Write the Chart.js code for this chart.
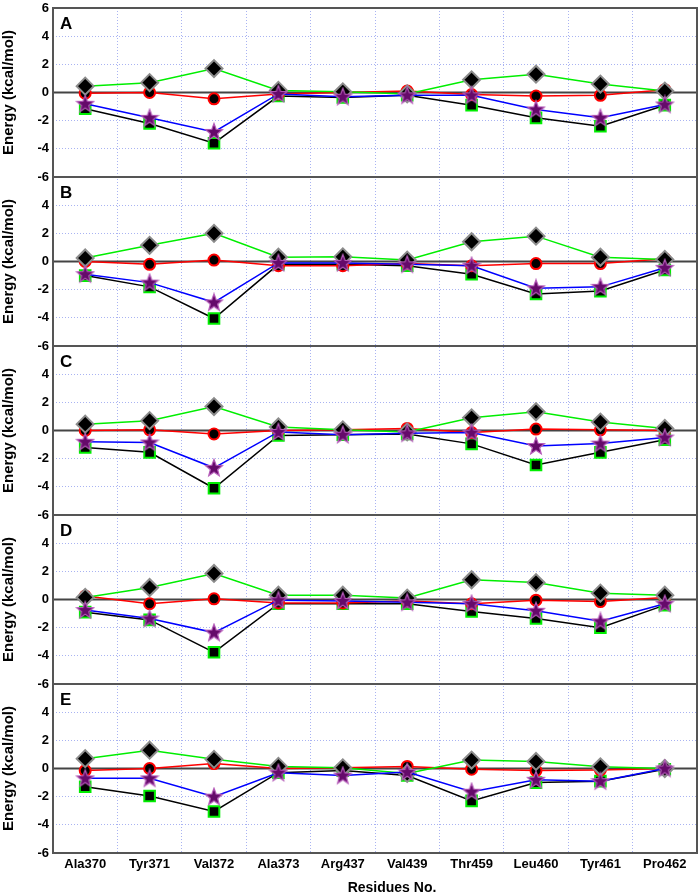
<!DOCTYPE html>
<html><head><meta charset="utf-8">
<script src="https://cdn.jsdelivr.net/npm/chart.js@4.4.0/dist/chart.umd.min.js"></script>
<style>html,body{margin:0;padding:0;background:#fff;}#wrap{position:relative;width:700px;height:896px;}</style>
</head><body><div id="wrap"><canvas id="c" width="700" height="896"></canvas></div>
<script>
const categories = ['Ala370','Tyr371','Val372','Ala373','Arg437','Val439','Thr459','Leu460','Tyr461','Pro462'];
const panelLabels = ['A','B','C','D','E'];
const xTitle = 'Residues No.';
const yTitle = 'Energy (kcal/mol)';

// Panel A
const diamondA = [0.45, 0.7, 1.7, 0.15, 0.05, -0.1, 0.9, 1.3, 0.6, 0.1];
const circleA  = [-0.05, 0.0, -0.45, -0.1, 0.0, 0.1, -0.15, -0.25, -0.2, 0.2];
const starA    = [-0.8, -1.8, -2.8, -0.1, -0.3, -0.2, -0.2, -1.2, -1.8, -0.85];
const squareA  = [-1.15, -2.2, -3.6, -0.25, -0.35, -0.2, -0.9, -1.8, -2.4, -0.9];
// Panel B
const diamondB = [0.25, 1.15, 2.0, 0.3, 0.33, 0.1, 1.4, 1.8, 0.3, 0.15];
const circleB  = [0.0, -0.2, 0.1, -0.3, -0.3, -0.15, -0.3, -0.15, -0.15, 0.2];
const starB    = [-0.9, -1.5, -2.9, -0.1, -0.1, -0.2, -0.3, -1.9, -1.8, -0.45];
const squareB  = [-1.0, -1.8, -4.05, -0.2, -0.2, -0.3, -0.9, -2.3, -2.1, -0.6];
// Panel C
const diamondC = [0.45, 0.7, 1.7, 0.25, 0.05, -0.1, 0.9, 1.33, 0.6, 0.15];
const circleC  = [0.0, 0.05, -0.25, 0.0, 0.05, 0.15, -0.15, 0.1, 0.05, 0.0];
const starC    = [-0.8, -0.85, -2.65, -0.1, -0.3, -0.2, -0.15, -1.1, -0.93, -0.5];
const squareC  = [-1.2, -1.55, -4.1, -0.35, -0.3, -0.25, -0.95, -2.45, -1.55, -0.65];
// Panel D
const diamondD = [0.15, 0.85, 1.85, 0.3, 0.3, 0.1, 1.4, 1.2, 0.45, 0.3];
const circleD  = [0.25, -0.3, 0.05, -0.25, -0.25, -0.1, -0.3, -0.05, -0.15, 0.15];
const starD    = [-0.75, -1.35, -2.35, -0.05, -0.1, -0.2, -0.3, -0.8, -1.55, -0.3];
const squareD  = [-0.9, -1.45, -3.75, -0.3, -0.3, -0.3, -0.85, -1.35, -2.0, -0.4];
// Panel E
const diamondE = [0.7, 1.3, 0.65, 0.15, 0.05, -0.35, 0.6, 0.5, 0.12, 0.0];
const circleE  = [-0.15, 0.0, 0.35, 0.0, 0.05, 0.15, -0.05, -0.15, -0.1, 0.0];
const starE    = [-0.7, -0.7, -2.0, -0.3, -0.5, -0.25, -1.65, -0.8, -0.9, 0.0];
const squareE  = [-1.3, -1.95, -3.05, -0.3, -0.15, -0.5, -2.3, -1.0, -0.9, -0.05];

const panels = [
  {id:'yA', label:'A', diamond:diamondA, circle:circleA, star:starA, square:squareA},
  {id:'yB', label:'B', diamond:diamondB, circle:circleB, star:starB, square:squareB},
  {id:'yC', label:'C', diamond:diamondC, circle:circleC, star:starC, square:squareC},
  {id:'yD', label:'D', diamond:diamondD, circle:circleD, star:starD, square:squareD},
  {id:'yE', label:'E', diamond:diamondE, circle:circleE, star:starE, square:squareE}
];

Chart.defaults.font.family = "'Liberation Sans', Arial, sans-serif";
const gridColor = '#a9b3f2';

function makeStar(){
  const c = document.createElement('canvas');
  c.width = 20; c.height = 20;
  const g = c.getContext('2d');
  const cx = 10, cy = 10.5, R = 9, r = 3.8;
  g.beginPath();
  for (let i = 0; i < 10; i++) {
    const rad = (i % 2 === 0) ? R : r;
    const a = -Math.PI/2 + i*Math.PI/5;
    const px = cx + rad*Math.cos(a), py = cy + rad*Math.sin(a);
    if (i === 0) g.moveTo(px, py); else g.lineTo(px, py);
  }
  g.closePath();
  g.fillStyle = '#650a6a';
  g.fill();
  g.lineWidth = 1.2;
  g.strokeStyle = '#b45ab8';
  g.stroke();
  return c;
}
const starImg = makeStar();

const datasets = [];
panels.forEach(p => {
  datasets.push({label:'star'+p.label, data:p.star, yAxisID:p.id, order:0,
    borderColor:'#0000ff', borderWidth:1.5, pointStyle:starImg, pointRadius:8, tension:0, fill:false});
  datasets.push({label:'diamond'+p.label, data:p.diamond, yAxisID:p.id, order:1,
    borderColor:'#00ee00', borderWidth:1.5, pointStyle:'rectRot', pointRadius:8.5,
    pointBackgroundColor:'#000', pointBorderColor:'#8c8c8c', pointBorderWidth:2, tension:0, fill:false});
  datasets.push({label:'circle'+p.label, data:p.circle, yAxisID:p.id, order:2,
    borderColor:'#ff0000', borderWidth:1.5, pointStyle:'circle', pointRadius:5.5,
    pointBackgroundColor:'#000', pointBorderColor:'#ff0000', pointBorderWidth:2, tension:0, fill:false});
  datasets.push({label:'square'+p.label, data:p.square, yAxisID:p.id, order:3,
    borderColor:'#000000', borderWidth:1.5, pointStyle:'rect', pointRadius:7.5,
    pointBackgroundColor:'#000', pointBorderColor:'#00ee00', pointBorderWidth:2, tension:0, fill:false});
});

const scales = {
  x: {
    type:'category', labels:categories, offset:true,
    grid:{offset:true, color:gridColor, lineWidth:1, drawTicks:false},
    border:{display:false, dash:[1,2]},
    ticks:{color:'#000', font:{size:13, weight:'bold'}, padding:4, maxRotation:0, autoSkip:false},
    afterFit(s){ s.height = 43; s.paddingLeft = 0; s.paddingRight = 0; }
  }
};
panels.forEach((p, i) => {
  scales[p.id] = {
    type:'linear', position:'left', stack:'panels', stackWeight:1, weight:10 - i,
    min:-6, max:6,
    grid:{color: ctx => (ctx.tick && (ctx.tick.value === 0 || Math.abs(ctx.tick.value) === 6)) ? 'rgba(0,0,0,0)' : gridColor,
          lineWidth:1, drawTicks:false},
    border:{display:false, dash:[1,2]},
    ticks:{stepSize:2, autoSkip:false, color:'#000', font:{size:13, weight:'bold'}, padding:4,
      callback: v => (i > 0 && v === 6) ? '' : String(v)},
    title:{display:true, text:yTitle, color:'#000', font:{size:15, weight:'bold'}, padding:0},
    afterFit(s){ s.width = 53; s.paddingTop = 0; s.paddingBottom = 0; }
  };
});

const framePlugin = {
  id:'frames',
  beforeDatasetsDraw(chart){
    const ctx = chart.ctx, a = chart.chartArea;
    ctx.save();
    panels.forEach(p => {
      const s = chart.scales[p.id];
      const y0 = s.getPixelForValue(0);
      ctx.strokeStyle = '#444'; ctx.lineWidth = 2;
      ctx.beginPath(); ctx.moveTo(a.left, y0); ctx.lineTo(a.right, y0); ctx.stroke();
      ctx.strokeStyle = '#555'; ctx.lineWidth = 2;
      ctx.strokeRect(a.left, s.top, a.right - a.left, s.bottom - s.top);
    });
    ctx.restore();
  },
  afterDraw(chart){
    const ctx = chart.ctx, a = chart.chartArea;
    ctx.save();
    ctx.fillStyle = '#000';
    ctx.font = "bold 17px 'Liberation Sans', Arial, sans-serif";
    ctx.textBaseline = 'middle'; ctx.textAlign = 'left';
    panels.forEach(p => {
      const s = chart.scales[p.id];
      ctx.fillText(p.label, a.left + 7, s.top + 16);
    });
    ctx.font = "bold 14px 'Liberation Sans', Arial, sans-serif";
    ctx.textAlign = 'center';
    ctx.fillText(xTitle, 392, 888);
    ctx.restore();
  }
};

new Chart(document.getElementById('c'), {
  type:'line',
  data:{labels:categories, datasets},
  options:{
    responsive:false, animation:false,
    layout:{autoPadding:false, padding:{left:0, right:3, top:8, bottom:0}},
    plugins:{legend:{display:false}, tooltip:{enabled:false}},
    scales
  },
  plugins:[framePlugin]
});
</script></body></html>
